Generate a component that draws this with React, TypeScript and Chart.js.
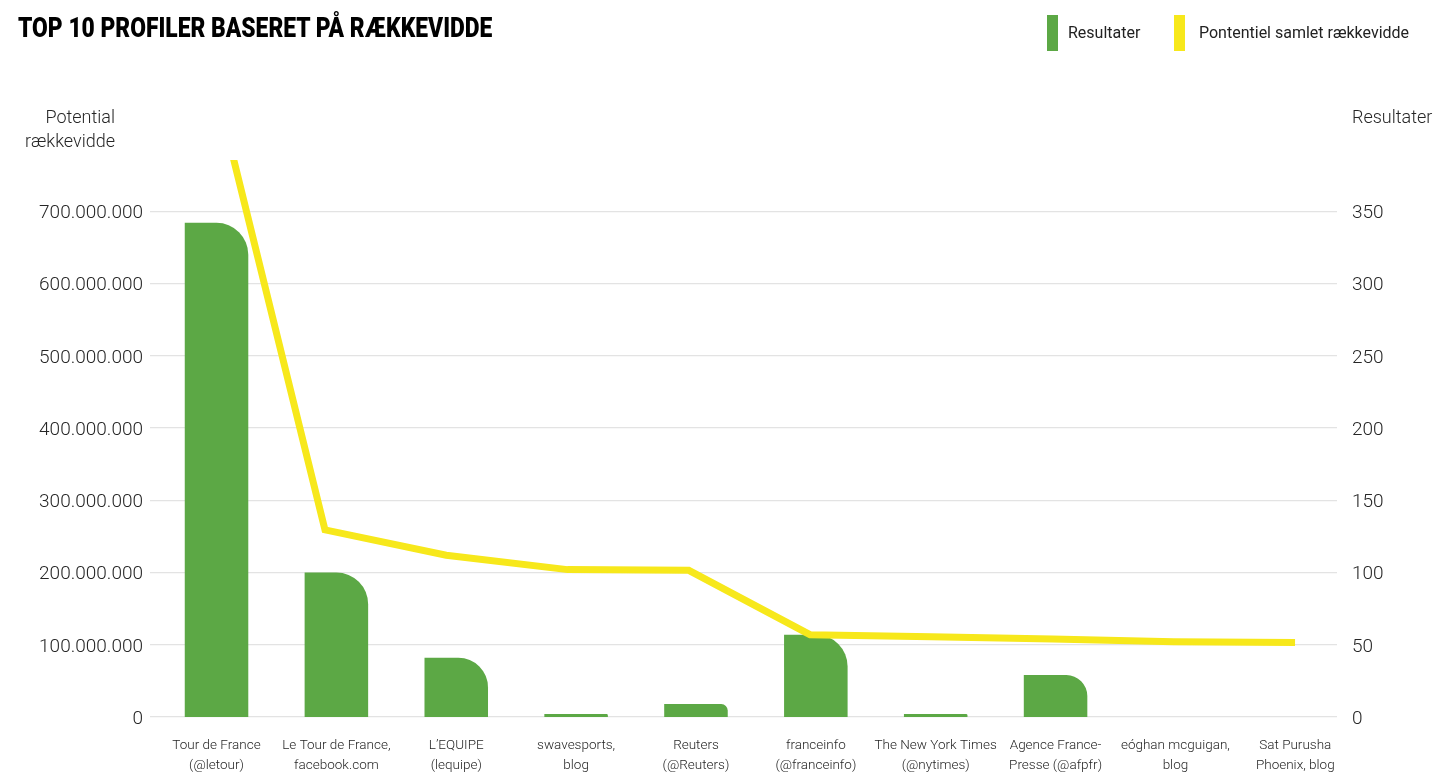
import React, { useEffect, useRef } from "react";
import { Chart, registerables } from "chart.js";

Chart.register(...registerables);

const categories: string[][] = [
  ["Tour de France", "(@letour)"],
  ["Le Tour de France,", "facebook.com"],
  ["L’EQUIPE", "(lequipe)"],
  ["swavesports,", "blog"],
  ["Reuters", "(@Reuters)"],
  ["franceinfo", "(@franceinfo)"],
  ["The New York Times", "(@nytimes)"],
  ["Agence France-", "Presse (@afpfr)"],
  ["eóghan mcguigan,", "blog"],
  ["Sat Purusha", "Phoenix, blog"],
];

const resultater = [342, 100, 41, 2, 9, 57, 2, 29, 0, 0];
// first value runs above the plot top and is clipped there
const potentielRaekkevidde = [940e6, 259e6, 224e6, 204e6, 203e6, 114e6, 111e6, 108e6, 104e6, 103e6];

const leftTicks = [0, 100e6, 200e6, 300e6, 400e6, 500e6, 600e6, 700e6];
const rightTicks = [0, 50, 100, 150, 200, 250, 300, 350];
const leftMax = 771e6;
const rightMax = 385.5;

const GREEN = "#5CA845";
const YELLOW = "#F7E81B";
const TEXT = "#262626";

const fmtDots = (n: number) => String(Math.round(n)).replace(/\B(?=(\d{3})+(?!\d))/g, ".");

export default function App() {
  const canvasRef = useRef<HTMLCanvasElement | null>(null);

  useEffect(() => {
    document.body.style.margin = "0";
    const ctx = canvasRef.current;
    if (!ctx) return;
    const tickFont = { family: "Roboto", size: 19, weight: "300" as const };
    const chart = new Chart(ctx, {
      type: "bar",
      data: {
        datasets: [
          {
            type: "line",
            label: "Pontentiel samlet rækkevidde",
            data: potentielRaekkevidde.map((v, i) => ({ x: i, y: v })),
            yAxisID: "y",
            xAxisID: "xLine",
            borderColor: YELLOW,
            backgroundColor: YELLOW,
            borderWidth: 7,
            pointRadius: 0,
            tension: 0,
            borderCapStyle: "butt",
            borderJoinStyle: "miter",
            clip: 0,
            order: 1,
          } as any,
          {
            type: "bar",
            label: "Resultater",
            data: resultater.map((v, i) => ({ x: i, y: v })),
            yAxisID: "y1",
            xAxisID: "x",
            backgroundColor: GREEN,
            borderWidth: 0,
            borderRadius: { topLeft: 0, topRight: 40, bottomLeft: 0, bottomRight: 0 },
            borderSkipped: false,
            grouped: false,
            categoryPercentage: 1,
            barPercentage: 0.53,
            order: 2,
          } as any,
        ],
      },
      options: {
        responsive: false,
        animation: false,
        devicePixelRatio: 1,
        layout: { padding: { top: 160, left: 0, right: 0, bottom: 0 } },
        plugins: {
          legend: { display: false },
          title: { display: false },
          tooltip: { enabled: false },
        },
        scales: {
          x: {
            type: "linear",
            position: "bottom",
            min: -0.555,
            max: 9.348,
            offset: false,
            grid: { display: false, offset: false },
            border: { display: false },
            afterBuildTicks: (s: any) => {
              s.ticks = categories.map((_, i) => ({ value: i }));
            },
            ticks: {
              color: TEXT,
              font: { family: "Roboto", size: 13.5, weight: "300" as const, lineHeight: 1.5 },
              maxRotation: 0,
              autoSkip: false,
              padding: 10,
              callback: (v: any) => categories[Math.round(Number(v))] ?? "",
            },
            afterFit: (s: any) => {
              s.height = 55;
            },
          },
          xLine: {
            type: "linear",
            position: "bottom",
            display: false,
            min: -0.443,
            max: 9.346,
            offset: false,
          },
          y: {
            position: "left",
            min: 0,
            max: leftMax,
            grid: { color: "#e3e3e3", lineWidth: 1.2, drawTicks: false },
            border: { display: false },
            afterBuildTicks: (s: any) => {
              s.ticks = leftTicks.map((v) => ({ value: v }));
            },
            ticks: {
              color: TEXT,
              font: tickFont,
              padding: 7,
              labelOffset: 2,
              callback: (v: any) => fmtDots(Number(v)),
            },
            afterFit: (s: any) => {
              s.width = 150;
            },
          },
          y1: {
            position: "right",
            min: 0,
            max: rightMax,
            grid: { display: false, drawTicks: false },
            border: { display: false },
            afterBuildTicks: (s: any) => {
              s.ticks = rightTicks.map((v) => ({ value: v }));
            },
            ticks: {
              color: TEXT,
              font: tickFont,
              padding: 15,
              labelOffset: 2,
            },
            afterFit: (s: any) => {
              s.width = 99;
            },
          },
        },
      } as any,
    });
    return () => chart.destroy();
  }, []);

  const axisTitle: React.CSSProperties = {
    position: "absolute",
    fontFamily: "Roboto",
    fontWeight: 300,
    fontSize: 18,
    lineHeight: "24px",
    color: TEXT,
    whiteSpace: "nowrap",
  };
  const legendText: React.CSSProperties = {
    position: "absolute",
    fontFamily: "Roboto",
    fontWeight: 400,
    fontSize: 16,
    lineHeight: "20px",
    color: "#222",
    whiteSpace: "nowrap",
    top: 23,
  };

  return (
    <div style={{ position: "relative", width: 1436, height: 772, overflow: "hidden", background: "#fff" }}>
      <canvas ref={canvasRef} width={1436} height={772} style={{ position: "absolute", left: 0, top: 0 }} />
      <div
        style={{
          position: "absolute",
          left: 18,
          top: 11,
          fontFamily: "Roboto",
          fontWeight: 900,
          fontSize: 27,
          lineHeight: "34px",
          color: "#000",
          whiteSpace: "nowrap",
          transform: "scaleX(0.845)",
          transformOrigin: "left center",
        }}
      >
        TOP 10 PROFILER BASERET PÅ RÆKKEVIDDE
      </div>
      <div style={{ position: "absolute", left: 1047, top: 15, width: 11, height: 36, background: GREEN }} />
      <div style={{ ...legendText, left: 1068 }}>Resultater</div>
      <div style={{ position: "absolute", left: 1174, top: 15, width: 11, height: 36, background: YELLOW }} />
      <div style={{ ...legendText, left: 1199 }}>Pontentiel samlet rækkevidde</div>
      <div style={{ ...axisTitle, left: 0, width: 115, top: 105, textAlign: "right" }}>
        Potential
        <br />
        rækkevidde
      </div>
      <div style={{ ...axisTitle, left: 1352, top: 105 }}>Resultater</div>
    </div>
  );
}
